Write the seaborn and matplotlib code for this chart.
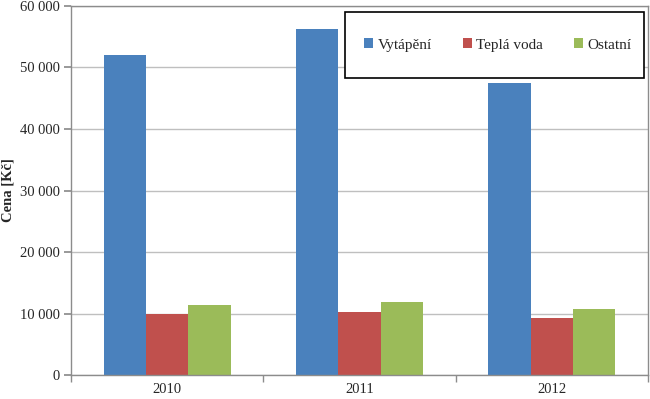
import matplotlib
matplotlib.use("Agg")
import matplotlib.pyplot as plt
import seaborn as sns
import pandas as pd
from matplotlib.ticker import FuncFormatter, FixedLocator
from matplotlib.patches import Rectangle

years = ["2010", "2011", "2012"]
series = ["Vytápění", "Teplá voda", "Ostatní"]
vytapeni = [52050, 56200, 47400]
tepla_voda = [9900, 10200, 9250]
ostatni = [11450, 11900, 10800]
colors = ["#4A81BD", "#C0504D", "#9BBB59"]

rows = []
for name, vals in zip(series, [vytapeni, tepla_voda, ostatni]):
    for y, v in zip(years, vals):
        rows.append({"rok": y, "serie": name, "cena": v})
df = pd.DataFrame(rows)

sns.set_theme(style="white")
plt.rcParams["font.family"] = ["Liberation Serif", "DejaVu Serif"]

fig = plt.figure(figsize=(6.5, 3.99), dpi=100)
ax = fig.add_axes([0.109, 0.060, 0.888, 0.925])

sns.barplot(data=df, x="rok", y="cena", hue="serie", palette=colors,
            width=0.66, ax=ax, legend=False, saturation=1, edgecolor="none")

ax.set_ylim(0, 60000)
ax.set_xlim(-0.5, 2.5)
ax.set_yticks(range(0, 60001, 10000))
ax.yaxis.set_major_formatter(FuncFormatter(lambda v, p: f"{int(v):,}".replace(",", " ")))
ax.grid(axis="y", color="#BFBFBF", linewidth=1)
ax.set_axisbelow(True)
for s in ax.spines.values():
    s.set_color("#8C8C8C")
    s.set_linewidth(1)
    s.set_visible(True)
ax.tick_params(axis="y", direction="out", length=5, color="#8C8C8C", labelsize=10.5, pad=3, left=True)
ax.tick_params(axis="x", which="major", length=0, labelsize=10.5, pad=6)
ax.xaxis.set_minor_locator(FixedLocator([-0.5, 0.5, 1.5, 2.5]))
ax.tick_params(axis="x", which="minor", direction="out", length=5, color="#8C8C8C", bottom=True)
ax.set_xlabel("")
ax.set_ylabel("Cena [Kč]", fontsize=10.5, fontweight="bold")
ax.yaxis.set_label_coords(-0.097, 0.5)

# legend box
x0, y0 = 345 / 650, 1 - 78 / 399
w, h = (644 - 345) / 650, (78 - 12) / 399
fig.patches.append(Rectangle((x0, y0), w, h, transform=fig.transFigure,
                             facecolor="white", edgecolor="black", linewidth=1.2, zorder=5))
handles = [Rectangle((0, 0), 1, 1, facecolor=c, edgecolor="none") for c in colors]
leg = fig.legend(handles, series, loc="center", bbox_to_anchor=(x0 + w / 2 + 0.005, y0 + h / 2),
                 ncol=3, frameon=False, fontsize=11, handlelength=0.6, handleheight=0.6,
                 handletextpad=0.3, columnspacing=2.0)
leg.set_zorder(6)

fig.savefig("out.png", dpi=100)
